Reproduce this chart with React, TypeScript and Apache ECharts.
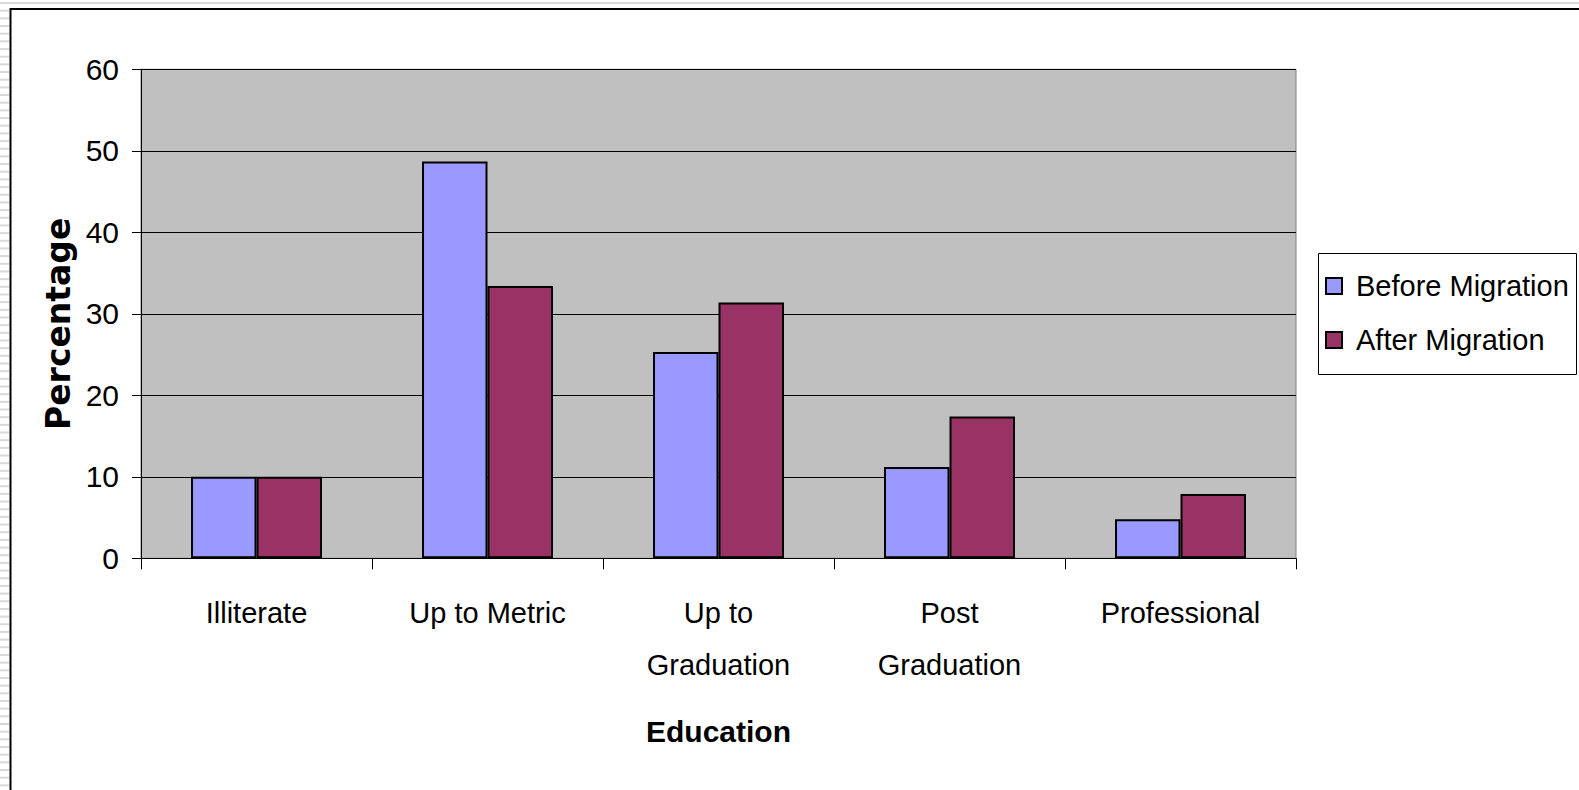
import React, { useEffect, useRef } from "react";
import * as echarts from "echarts";

const categories = ["Illiterate", "Up to Metric", "Up to\nGraduation", "Post\nGraduation", "Professional"];
const beforeMigration = [10, 48.7, 25.3, 11.2, 4.8];
const afterMigration = [10, 33.4, 31.4, 17.4, 7.9];
const seriesNames = ["Before Migration", "After Migration"];
const yTicks = { min: 0, max: 60, interval: 10 };

const SANS = "'Liberation Sans', Arial, sans-serif";

export default function App() {
  const ref = useRef<HTMLDivElement>(null);
  useEffect(() => {
    if (!ref.current) return;
    const chart = echarts.init(ref.current, undefined, { renderer: "svg" });
    const stripes: any[] = [];
    for (let y = 2; y < 790; y += 7.67) {
      stripes.push({
        type: "rect",
        shape: { x: 0, y: y, width: 9, height: 2 },
        style: { fill: "#d9d9d9" },
        silent: true,
      });
    }
    chart.setOption({
      animation: false,
      backgroundColor: "#ffffff",
      graphic: [
        ...stripes,
        { type: "rect", shape: { x: 0, y: 2, width: 1579, height: 2 }, style: { fill: "#d9d9d9" }, silent: true },
        {
          type: "rect",
          shape: { x: 10.5, y: 9, width: 1600, height: 800 },
          style: { fill: "none", stroke: "#000", lineWidth: 2 },
          silent: true,
        },
        {
          type: "rect",
          shape: { x: 1318.5, y: 253.5, width: 258, height: 121 },
          style: { fill: "none", stroke: "#000", lineWidth: 1 },
          silent: true,
        },
      ],
      grid: {
        left: 141,
        right: 283,
        top: 69.3,
        bottom: 231.7,
        show: true,
        backgroundColor: "#c0c0c0",
        borderColor: "#808080",
        borderWidth: 1,
        containLabel: false,
      },
      legend: {
        orient: "vertical",
        left: 1325,
        top: 266,
        itemWidth: 16,
        itemHeight: 16,
        itemGap: 14,
        padding: 0,
        icon: "rect",
        data: seriesNames,
        itemStyle: { borderColor: "#000", borderWidth: 2 },
        textStyle: { fontFamily: SANS, fontSize: 29, color: "#000", lineHeight: 40, padding: [0, 0, 0, 9] },
      },
      xAxis: {
        type: "category",
        data: categories,
        name: "Education",
        nameLocation: "middle",
        nameGap: 158,
        nameTextStyle: { fontFamily: SANS, fontWeight: "bold", fontSize: 30, color: "#000" },
        axisLine: { lineStyle: { color: "#000", width: 1 } },
        axisTick: { show: true, length: 11, lineStyle: { color: "#000" } },
        axisLabel: { fontFamily: SANS, fontSize: 29, color: "#000", lineHeight: 52, margin: 29, interval: 0 },
      },
      yAxis: {
        type: "value",
        min: yTicks.min,
        max: yTicks.max,
        interval: yTicks.interval,
        name: "Percentage",
        nameLocation: "middle",
        nameRotate: 90,
        nameGap: 62,
        nameTextStyle: {
          fontFamily: "'DejaVu Sans', sans-serif",
          fontWeight: "bold",
          fontSize: 33,
          color: "#000",
          padding: [0, 20, 0, 0],
        },
        axisLine: { show: true, lineStyle: { color: "#000", width: 1 } },
        axisTick: { show: true, length: 9, lineStyle: { color: "#000" } },
        axisLabel: { fontFamily: SANS, fontSize: 30, color: "#000", margin: 22 },
        splitLine: { show: true, lineStyle: { color: "#000", width: 1 } },
      },
      series: [
        {
          name: seriesNames[0],
          type: "bar",
          data: beforeMigration,
          barGap: "0%",
          barCategoryGap: "43.3%",
          itemStyle: { color: "#9999ff", borderColor: "#000", borderWidth: 2 },
        },
        {
          name: seriesNames[1],
          type: "bar",
          data: afterMigration,
          barGap: "0%",
          barCategoryGap: "43.3%",
          itemStyle: { color: "#993366", borderColor: "#000", borderWidth: 2 },
        },
      ],
    });
    return () => chart.dispose();
  }, []);
  return <div ref={ref} style={{ width: 1579, height: 790, position: "absolute", left: 0, top: 0 }} />;
}
